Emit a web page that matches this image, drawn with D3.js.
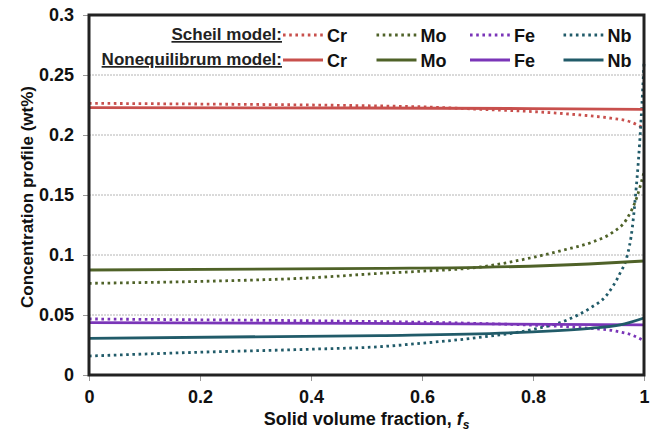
<!DOCTYPE html>
<html>
<head>
<meta charset="utf-8">
<script src="https://cdn.jsdelivr.net/npm/d3@7"></script>
<style>
  body { margin: 0; background: #fff; }
  text { font-family: "Liberation Sans", Arial, sans-serif; font-weight: bold; }
</style>
</head>
<body>
<script>
// solid fraction samples and concentrations (wt%)
var cr_scheil = [[0,0.2264],[0.2,0.2258],[0.4,0.225],[0.524,0.2242],[0.6,0.2235],[0.705,0.2214],[0.8,0.2195],[0.885,0.2167],[0.94,0.214],[0.975,0.211],[1,0.2055]]
var mo_scheil = [[0,0.0764],[0.2,0.078],[0.4,0.081],[0.524,0.0847],[0.6,0.0865],[0.705,0.09],[0.795,0.0975],[0.854,0.104],[0.908,0.111],[0.944,0.119],[0.969,0.13],[0.987,0.148],[1,0.169]]
var fe_scheil = [[0,0.0467],[0.2,0.046],[0.4,0.0452],[0.524,0.0445],[0.6,0.044],[0.7,0.043],[0.8,0.0415],[0.9,0.039],[0.95,0.0365],[0.98,0.033],[1,0.0285]]
var nb_scheil = [[0,0.0158],[0.2,0.019],[0.4,0.0215],[0.524,0.0236],[0.6,0.0265],[0.71,0.0317],[0.8,0.038],[0.861,0.0458],[0.903,0.0558],[0.933,0.0667],[0.957,0.085],[0.969,0.098],[0.979,0.123],[0.985,0.151],[0.99,0.179],[0.995,0.215],[1,0.26]]

var cr_noneq = [[0,0.2228],[0.5,0.2225],[0.8,0.222],[1,0.2214]]
var mo_noneq = [[0,0.0875],[0.524,0.0889],[0.705,0.0897],[0.9,0.0925],[1,0.095]]
var fe_noneq = [[0,0.0436],[0.5,0.043],[1,0.0417]]
var nb_noneq = [[0,0.0306],[0.524,0.0328],[0.8,0.036],[0.903,0.0389],[0.957,0.0417],[1,0.0475]]

var elements = ['Cr', 'Mo', 'Fe', 'Nb']
var colors = ['#C8504D', '#4F6228', '#7A35B8', '#215B69']
var x_ticks = [0, 0.2, 0.4, 0.6, 0.8, 1]
var y_ticks = [0, 0.05, 0.1, 0.15, 0.2, 0.25, 0.3]

var series = [
    {el: 'Cr', kind: 'scheil', values: cr_scheil},
    {el: 'Mo', kind: 'scheil', values: mo_scheil},
    {el: 'Fe', kind: 'scheil', values: fe_scheil},
    {el: 'Nb', kind: 'scheil', values: nb_scheil},
    {el: 'Cr', kind: 'noneq', values: cr_noneq},
    {el: 'Mo', kind: 'noneq', values: mo_noneq},
    {el: 'Fe', kind: 'noneq', values: fe_noneq},
    {el: 'Nb', kind: 'noneq', values: nb_noneq}
]

var W = 654, H = 435
var m = {left: 89, top: 15, right: 10, bottom: 60}
var w = W - m.left - m.right, h = H - m.top - m.bottom

var color = d3.scaleOrdinal().domain(elements).range(colors)
var x = d3.scaleLinear().domain([0, 1]).range([0, w])
var y = d3.scaleLinear().domain([0, 0.3]).range([h, 0])

var svg = d3.select('body').append('svg').attr('width', W).attr('height', H)
var g = svg.append('g').attr('transform', 'translate(' + m.left + ',' + m.top + ')')

// gridlines
g.selectAll('.grid').data(y_ticks.filter(d => d > 0 && d < 0.3)).enter().append('line')
    .attr('x1', 0).attr('x2', w).attr('y1', d => y(d)).attr('y2', d => y(d))
    .attr('stroke', '#b4b4b4').attr('stroke-width', 1).attr('stroke-dasharray', '2,1')

// axes
var yAxis = g.append('g').call(d3.axisLeft(y).tickValues(y_ticks).tickSize(6).tickPadding(9).tickFormat(d3.format('')))
var xAxis = g.append('g').attr('transform', 'translate(0,' + h + ')')
    .call(d3.axisBottom(x).tickValues(x_ticks).tickSize(6).tickPadding(9).tickFormat(d3.format('')))
;[yAxis, xAxis].forEach(a => {
    a.select('.domain').remove()
    a.selectAll('line').attr('stroke', '#999')
    a.selectAll('text').attr('font-size', 18).attr('fill', '#111')
        .style('font-family', '"Liberation Sans", Arial, sans-serif').style('font-weight', 'bold')
})

// curves
var line = d3.line().x(d => x(d[0])).y(d => y(d[1])).curve(d3.curveMonotoneX)
g.append('g').selectAll('path').data(series).enter().append('path')
    .attr('d', d => line(d.values))
    .attr('fill', 'none')
    .attr('stroke', d => color(d.el))
    .attr('stroke-width', 2.8)
    .attr('stroke-dasharray', d => d.kind == 'scheil' ? '2.6,3.6' : null)

// frame
g.append('rect').attr('x', 0).attr('y', 0).attr('width', w).attr('height', h)
    .attr('fill', 'none').attr('stroke', '#222').attr('stroke-width', 3)

// legend
var legend = g.append('g')
var rows = [{label: 'Scheil model:', kind: 'scheil', y: 20}, {label: 'Nonequilibrum model:', kind: 'noneq', y: 45}]
rows.forEach(r => {
    legend.append('text').attr('x', 193).attr('y', r.y + 5).attr('text-anchor', 'end')
        .attr('font-size', 17).attr('fill', '#222').attr('text-decoration', 'underline').text(r.label)
    elements.forEach((el, i) => {
        var lx = 194 + i * 93.5
        legend.append('line').attr('x1', lx).attr('x2', lx + 40).attr('y1', r.y).attr('y2', r.y)
            .attr('stroke', color(el)).attr('stroke-width', 2.8)
            .attr('stroke-dasharray', r.kind == 'scheil' ? '2.6,3.6' : null)
        legend.append('text').attr('x', lx + 44).attr('y', r.y + 6.5)
            .attr('font-size', 18).attr('fill', '#111').text(el)
    })
})

// axis titles
svg.append('text').attr('transform', 'translate(33,' + (m.top + h / 2 + 2) + ') rotate(-90)')
    .attr('text-anchor', 'middle').attr('font-size', 17).attr('fill', '#111')
    .text('Concentration profile (wt%)')

var xt = svg.append('text').attr('x', m.left + w / 2).attr('y', 425)
    .attr('text-anchor', 'middle').attr('font-size', 18).attr('fill', '#111')
xt.append('tspan').text('Solid volume fraction, ')
xt.append('tspan').attr('font-style', 'italic').text('f')
xt.append('tspan').attr('font-style', 'italic').attr('font-size', 12).attr('dy', 4).text('s')
</script>
</body>
</html>
